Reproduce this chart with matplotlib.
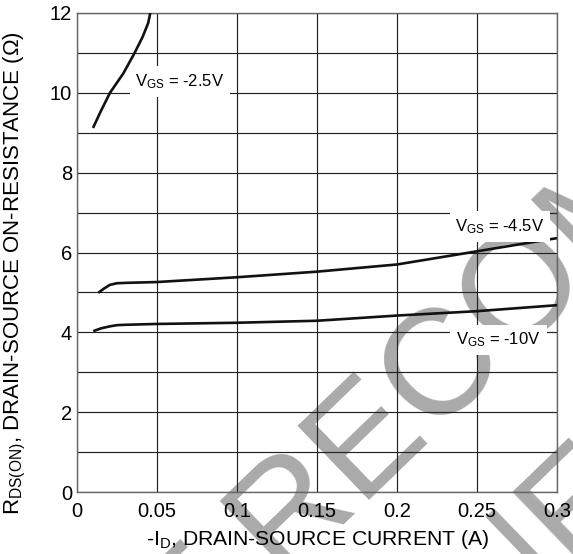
import matplotlib
matplotlib.use("Agg")
import matplotlib.pyplot as plt

plt.rcParams["font.family"] = ["Liberation Sans", "DejaVu Sans"]
plt.rcParams["mathtext.fontset"] = "custom"
plt.rcParams["mathtext.rm"] = "Liberation Sans"
plt.rcParams["mathtext.it"] = "Liberation Sans"

# curves (-ID in A, RDS(on) in ohm)
id_25 = [0.010, 0.015, 0.0206, 0.029, 0.036, 0.041, 0.0445, 0.0458]
r_25 = [9.12, 9.55, 10.0, 10.49, 11.0, 11.4, 11.75, 12.0]

id_45 = [0.0133, 0.017, 0.0206, 0.025, 0.031, 0.05, 0.1, 0.15, 0.2, 0.25, 0.3]
r_45 = [4.99, 5.10, 5.19, 5.23, 5.24, 5.26, 5.38, 5.52, 5.70, 6.03, 6.36]

id_10 = [0.0102, 0.015, 0.0206, 0.025, 0.031, 0.05, 0.1, 0.15, 0.2, 0.25, 0.3]
r_10 = [4.03, 4.10, 4.15, 4.18, 4.19, 4.21, 4.24, 4.29, 4.42, 4.53, 4.68]

x_ticks = [0, 0.05, 0.1, 0.15, 0.2, 0.25, 0.3]
x_tick_labels = ["0", "0.05", "0.1", "0.15", "0.2", "0.25", "0.3"]
y_ticks = [0, 2, 4, 6, 8, 10, 12]
y_minor = [1, 3, 5, 7, 9, 11]

W, H = 573, 554
fig = plt.figure(figsize=(W / 100, H / 100), dpi=100)
ax = fig.add_axes([77 / W, 1 - 492 / H, 480 / W, 479 / H])
ax.patch.set_alpha(0)

# watermark behind everything (baseline-left anchors in pixels)
wm = dict(fontsize=108, color="#aaaaaa", rotation=44, rotation_mode="anchor",
          ha="left", va="baseline", zorder=-5)
fig.text(27 / W, 1 - 830 / H, "NOT RECOMMENDED", **wm)
fig.text(240 / W, 1 - 898 / H, "FOR NEW DESIGN", **wm)

ax.plot(id_25, r_25, color="#111111", lw=1.9, solid_capstyle="butt", zorder=3)
ax.plot(id_45, r_45, color="#111111", lw=1.9, solid_capstyle="butt", zorder=3)
ax.plot(id_10, r_10, color="#111111", lw=1.9, solid_capstyle="butt", zorder=3)

ax.set_xlim(0, 0.3)
ax.set_ylim(0, 12)
ax.set_xticks(x_ticks)
ax.set_xticklabels(x_tick_labels)
ax.set_yticks(y_ticks)
ax.set_yticks(y_minor, minor=True)
ax.grid(True, which="both", color="#222222", lw=0.85)
ax.tick_params(which="both", length=0, labelsize=14.5)
ax.tick_params(axis="x", pad=7.5)
ax.tick_params(axis="y", pad=3.5)
for s in ax.spines.values():
    s.set_color("#666666")
    s.set_linewidth(1.0)

box = dict(boxstyle="square,pad=0.35", facecolor="white", edgecolor="none")
ax.text(0.0644, 10.28, r"V$_{\mathrm{GS}}$ = -2.5V", fontsize=12, ha="center",
        va="center", bbox=box, zorder=4)
ax.text(0.2644, 6.65, r"V$_{\mathrm{GS}}$ = -4.5V", fontsize=12, ha="center",
        va="center", bbox=box, zorder=4)
ax.text(0.2634, 3.81, r"V$_{\mathrm{GS}}$ = -10V", fontsize=12, ha="center",
        va="center", bbox=box, zorder=4)

ax.set_xlabel(r"-I$_{\mathrm{D}}$, DRAIN-SOURCE CURRENT (A)", fontsize=15.2, va="baseline")
ax.xaxis.set_label_coords(0.502, -0.1107)
ax.set_ylabel(r"R$_{\mathrm{DS(ON)}}$, DRAIN-SOURCE ON-RESISTANCE (Ω)", fontsize=16, va="center")
ax.yaxis.set_label_coords(-0.130, 0.457)

fig.savefig("out.png", dpi=100)
